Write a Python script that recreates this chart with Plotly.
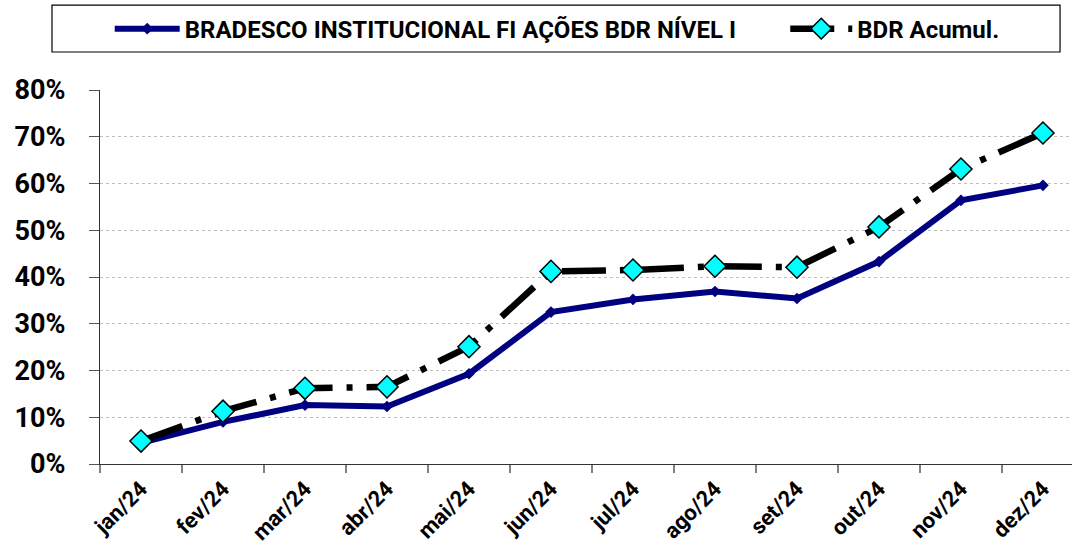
import plotly.graph_objects as go

# Monthly accumulated returns (%)
months = ["jan/24", "fev/24", "mar/24", "abr/24", "mai/24", "jun/24",
          "jul/24", "ago/24", "set/24", "out/24", "nov/24", "dez/24"]
fund_name = "BRADESCO INSTITUCIONAL FI AÇÕES BDR NÍVEL I"
fund_values = [4.5, 9.0, 12.6, 12.3, 19.3, 32.5, 35.2, 36.9, 35.4, 43.3, 56.4, 59.6]
bench_name = "BDR Acumul."
bench_values = [4.9, 11.3, 16.2, 16.5, 25.1, 41.2, 41.5, 42.3, 42.1, 50.7, 63.1, 70.8]
y_ticks = [0, 10, 20, 30, 40, 50, 60, 70, 80]
y_labels = [f"{v}%" for v in y_ticks]

FONT = "Roboto"

fig = go.Figure()
fig.add_trace(go.Scatter(
    x=months, y=fund_values, name=fund_name, mode="lines+markers",
    line=dict(color="#000080", width=6),
    marker=dict(symbol="diamond", size=9, color="#000080"),
    legend="legend",
))
fig.add_trace(go.Scatter(
    x=months, y=bench_values, name=bench_name, mode="lines+markers",
    line=dict(color="#000000", width=6.5, dash="44px,14px,6px,14px"),
    marker=dict(symbol="diamond", size=17, color="#00FFFF",
                line=dict(color="#000000", width=1.5)),
    legend="legend2",
))

legend_font = dict(family=FONT, size=24, color="black", weight="bold")
fig.update_layout(
    width=1072, height=553,
    margin=dict(l=100, r=0, t=90, b=89),
    paper_bgcolor="white", plot_bgcolor="white",
    font=dict(family=FONT, color="black"),
    showlegend=True,
    legend=dict(
        orientation="h", x=0.01, y=1.163, xanchor="left", yanchor="middle",
        font=legend_font, itemwidth=65,
        bgcolor="rgba(0,0,0,0)", borderwidth=0,
    ),
    legend2=dict(
        orientation="h", x=0.705, y=1.163, xanchor="left", yanchor="middle",
        font=legend_font, itemwidth=62,
        bgcolor="rgba(0,0,0,0)", borderwidth=0,
    ),
    shapes=[dict(type="rect", xref="paper", yref="paper",
                 x0=-0.0494, x1=0.9877, y0=1.1016, y1=1.227,
                 line=dict(color="black", width=1.2), fillcolor="rgba(0,0,0,0)")],
)

fig.update_xaxes(
    type="category", range=[-0.5, 11.354], automargin=False,
    showline=True, linecolor="#333333", linewidth=1.3,
    ticks="outside", tickson="boundaries", ticklen=8, tickcolor="#808080", tickwidth=1.5,
    tickangle=-45, ticklabelstandoff=2,
    tickfont=dict(family=FONT, size=22, color="black", weight="bold"),
    showgrid=False, zeroline=False,
)
fig.update_yaxes(
    range=[0, 80], tickvals=y_ticks, ticktext=y_labels, automargin=False,
    showline=True, linecolor="#333333", linewidth=1.3,
    ticks="outside", ticklen=10, tickcolor="#555555", tickwidth=1.3,
    ticklabelstandoff=18,
    tickfont=dict(family=FONT, size=27, color="black", weight="bold"),
    showgrid=True, gridcolor="#bfbfbf", griddash="dot", gridwidth=1,
    zeroline=False,
)

fig.write_html("out.html")
